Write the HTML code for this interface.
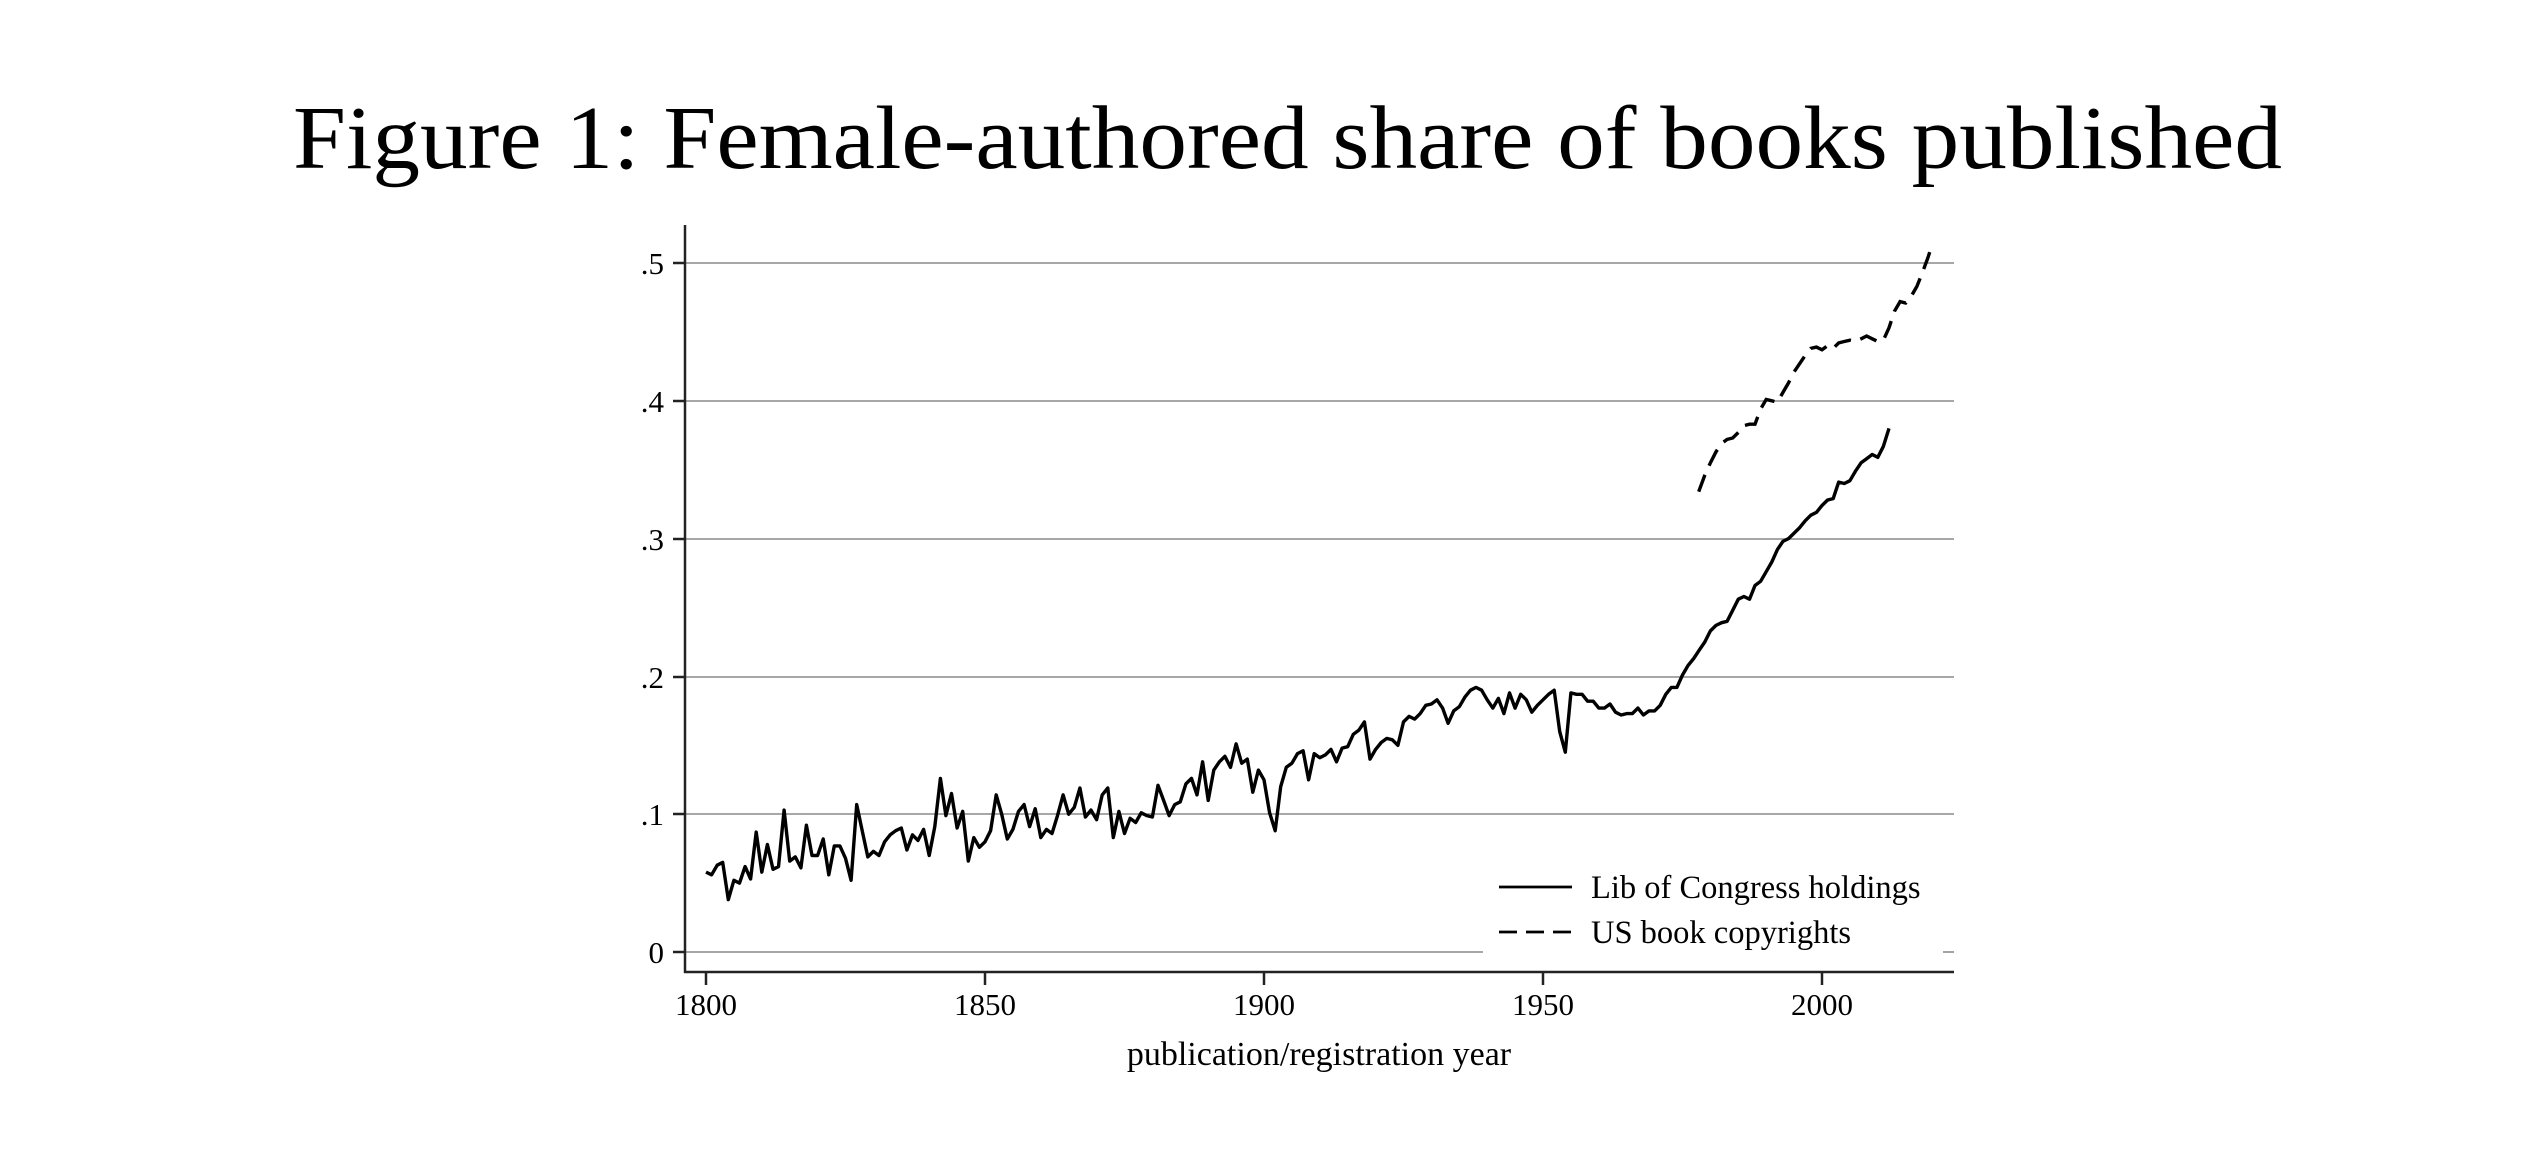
<!DOCTYPE html>
<html><head><meta charset="utf-8"><style>
html,body{margin:0;padding:0;background:#fff;}
svg{display:block;}
</style></head><body>
<svg id="s" width="2532" height="1170" viewBox="0 0 2532 1170" xmlns="http://www.w3.org/2000/svg">
<rect width="2532" height="1170" fill="#fff"/>
<text x="293" y="168" font-family="Liberation Serif, serif" font-size="90" textLength="1989" lengthAdjust="spacingAndGlyphs" fill="#000">Figure 1: Female-authored share of books published</text>
<g stroke="#8a8a8a" stroke-width="1.6">
<line x1="685" y1="263" x2="1954" y2="263"/>
<line x1="685" y1="401" x2="1954" y2="401"/>
<line x1="685" y1="539" x2="1954" y2="539"/>
<line x1="685" y1="677" x2="1954" y2="677"/>
<line x1="685" y1="814" x2="1954" y2="814"/>
<line x1="685" y1="952" x2="1483" y2="952"/>
<line x1="1943" y1="952" x2="1954" y2="952"/>
</g>
<g stroke="#222" stroke-width="2.5" fill="none">
<line x1="685" y1="225" x2="685" y2="973"/>
<line x1="684" y1="972" x2="1954" y2="972"/>
<line x1="673" y1="263" x2="685" y2="263"/>
<line x1="673" y1="401" x2="685" y2="401"/>
<line x1="673" y1="539" x2="685" y2="539"/>
<line x1="673" y1="677" x2="685" y2="677"/>
<line x1="673" y1="814" x2="685" y2="814"/>
<line x1="673" y1="952" x2="685" y2="952"/>
<line x1="706" y1="972" x2="706" y2="985"/>
<line x1="985" y1="972" x2="985" y2="985"/>
<line x1="1264" y1="972" x2="1264" y2="985"/>
<line x1="1543" y1="972" x2="1543" y2="985"/>
<line x1="1822" y1="972" x2="1822" y2="985"/>
</g>
<g font-family="Liberation Serif, serif" font-size="31" fill="#000" text-anchor="end">
<text x="664" y="274">.5</text>
<text x="664" y="412">.4</text>
<text x="664" y="550">.3</text>
<text x="664" y="688">.2</text>
<text x="664" y="825">.1</text>
<text x="664" y="963">0</text>
</g>
<g font-family="Liberation Serif, serif" font-size="31" fill="#000" text-anchor="middle">
<text x="706" y="1015">1800</text>
<text x="985" y="1015">1850</text>
<text x="1264" y="1015">1900</text>
<text x="1543" y="1015">1950</text>
<text x="1822" y="1015">2000</text>
</g>
<text x="1319" y="1065" font-family="Liberation Serif, serif" font-size="34" fill="#000" text-anchor="middle">publication/registration year</text>
<g stroke="#000" stroke-width="2.8">
<line x1="1499" y1="887" x2="1572" y2="887"/>
<line x1="1499" y1="932" x2="1572" y2="932" stroke-dasharray="18,9"/>
</g>
<g font-family="Liberation Serif, serif" font-size="32.5" fill="#000">
<text x="1591" y="898">Lib of Congress holdings</text>
<text x="1591" y="943">US book copyrights</text>
</g>
<polyline id="loc" fill="none" stroke="#000" stroke-width="3.4" stroke-linejoin="round"/>
<polyline id="usc" fill="none" stroke="#000" stroke-width="3.4" stroke-dasharray="18,10"/>
</svg>
<script>
var loc=[.058,.056,.063,.065,.038,.052,.050,.062,.053,.087,.058,.078,.060,.062,.103,.066,.069,.061,.092,.070,.070,.082,.056,.077,.077,.068,.052,.107,.088,.069,.073,.070,.080,.085,.088,.090,.074,.085,.081,.089,.070,.091,.126,.099,.115,.090,.102,.066,.083,.076,.080,.088,.114,.100,.082,.089,.102,.107,.091,.104,.083,.089,.086,.099,.114,.100,.105,.119,.098,.103,.096,.114,.119,.083,.102,.086,.097,.094,.101,.099,.098,.121,.110,.099,.107,.109,.122,.126,.114,.138,.110,.132,.138,.142,.134,.151,.137,.140,.116,.132,.125,.101,.088,.120,.134,.137,.144,.146,.125,.144,.141,.143,.147,.138,.148,.149,.158,.161,.167,.140,.147,.152,.155,.154,.150,
.167,.171,.169,.173,.179,.180,.183,.177,.166,.175,.178,.185,.190,.192,.190,.183,.177,.184,.173,.188,.177,.187,.183,.174,.179,.183,.187,.190,.160,.145,.188,.187,.187,.182,.182,.177,.177,.180,.174,.172,.173,.173,.177,.172,.175,.175,.179,.187,.192,.192,.201,.208,.213,.219,.225,.233,.237,.239,.240,.248,.256,.258,.256,.266,.269,.276,.283,.292,.298,.300,.304,.308,.313,.317,.319,.324,.328,.329,.341,.340,.342,.349,.355,.358,.361,.359,.367,.380];
var us=[[1977.9,.334],[1979,.346],[1980,.355],[1981,.363],[1982,.369],[1983,.372],[1984,.373],[1985,.377],[1986,.382],[1987,.383],[1988,.383],[1989,.394],[1990,.401],[1991,.400],[1992,.399],[1993,.406],[1994,.413],[1995,.421],[1996,.427],[1997,.433],[1998,.438],[1999,.439],[2000,.437],[2001,.440],[2002,.438],[2003,.442],[2004,.443],[2005,.444],[2006,.443],[2007,.445],[2008,.447],[2009,.445],[2010,.443],[2011,.444],[2012,.453],[2013,.465],[2014,.472],[2015,.471],[2016,.476],[2017,.483],[2018,.493],[2019,.504],[2019.7,.513]];
function X(y){return (706+(y-1800)*5.58).toFixed(1);}
function Y(v){return (952-v*1378).toFixed(1);}
var p=[];for(var i=0;i<loc.length;i++)p.push(X(1800+i)+","+Y(loc[i]));
document.getElementById("loc").setAttribute("points",p.join(" "));
var q=us.map(function(d){return X(d[0])+","+Y(d[1]);});
document.getElementById("usc").setAttribute("points",q.join(" "));
</script>
</body></html>
